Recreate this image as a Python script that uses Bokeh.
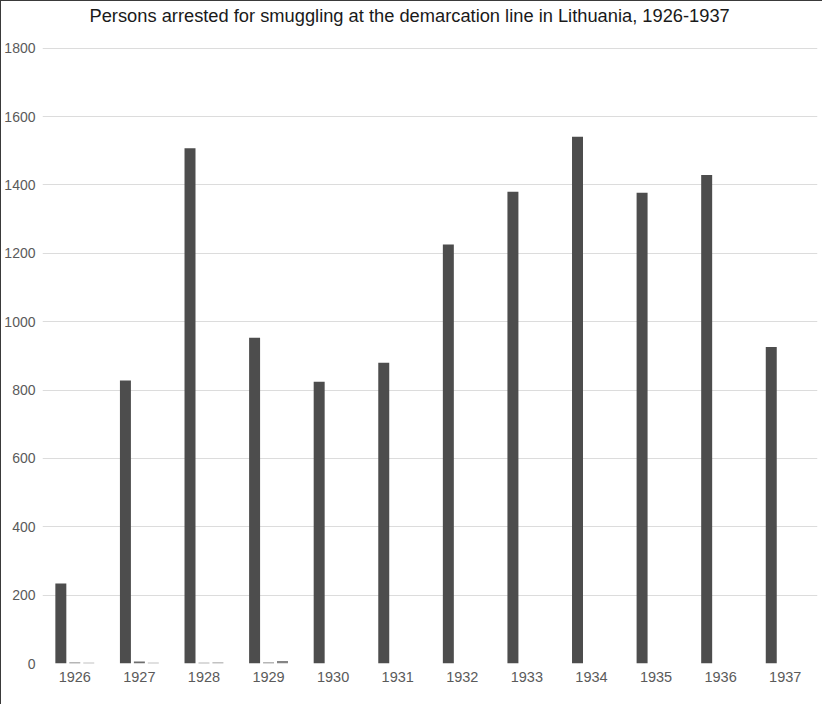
from bokeh.plotting import figure
from bokeh.models import ColumnDataSource, Range1d, FixedTicker
from bokeh.transform import dodge
from bokeh.embed import file_html
from bokeh.resources import INLINE

title_text = "Persons arrested for smuggling at the demarcation line in Lithuania, 1926-1937"
years = ["1926", "1927", "1928", "1929", "1930", "1931",
         "1932", "1933", "1934", "1935", "1936", "1937"]
arrested = [234, 828, 1507, 953, 824, 880, 1226, 1380, 1541, 1377, 1429, 926]
minor_a = [3, 6, 2, 3, 0, 0, 0, 0, 0, 0, 0, 0]
minor_b = [2, 2, 3, 7, 0, 0, 0, 0, 0, 0, 0, 0]
y_ticks = [0, 200, 400, 600, 800, 1000, 1200, 1400, 1600, 1800]

src = ColumnDataSource(dict(year=years, a=arrested, b=minor_a, c=minor_b))

p = figure(x_range=years, y_range=Range1d(0, 1802), width=822, height=704,
           output_backend="svg", toolbar_location=None, title=title_text,
           min_border_left=41, min_border_right=6, min_border_top=46, min_border_bottom=42)
p.styles = {"border-left": "1px solid #3a3a3a", "border-top": "1px solid #3a3a3a"}

p.title.align = "left"
p.title.offset = 47
p.title.standoff = 2
p.title.padding = dict(left=0, right=0, top=0, bottom=21)
p.title.text_font = "Liberation Sans"
p.title.text_font_size = "18.3px"
p.title.text_font_style = "normal"
p.title.text_color = "#1a1a1a"

w = 0.17
p.vbar(x=dodge("year", -0.216, range=p.x_range), top="a", width=w, bottom=0,
       source=src, fill_color="#4d4d4d", line_color=None)
p.vbar(x=dodge("year", 0.0, range=p.x_range), top="b", width=w, bottom=0,
       source=src, fill_color="#6e6e6e", line_color=None)
p.vbar(x=dodge("year", 0.216, range=p.x_range), top="c", width=w, bottom=0,
       source=src, fill_color="#858585", line_color=None)

p.outline_line_color = None
p.xgrid.grid_line_color = None
p.ygrid.grid_line_color = "#dcdcdc"
p.ygrid.grid_line_width = 1
p.yaxis.ticker = FixedTicker(ticks=y_ticks)

for ax in (p.xaxis, p.yaxis):
    ax.axis_line_color = None
    ax.major_tick_line_color = None
    ax.minor_tick_line_color = None
    ax.major_tick_out = 0
    ax.major_tick_in = 0
    ax.minor_tick_out = 0
    ax.major_label_text_font = "Liberation Sans"
    ax.major_label_text_color = "#5a5a5a"
p.yaxis.major_label_text_font_size = "14px"
p.xaxis.major_label_text_font_size = "14.5px"
p.yaxis.major_label_standoff = 7
p.xaxis.major_label_standoff = 8

open("out.html", "w").write(file_html(p, INLINE))
